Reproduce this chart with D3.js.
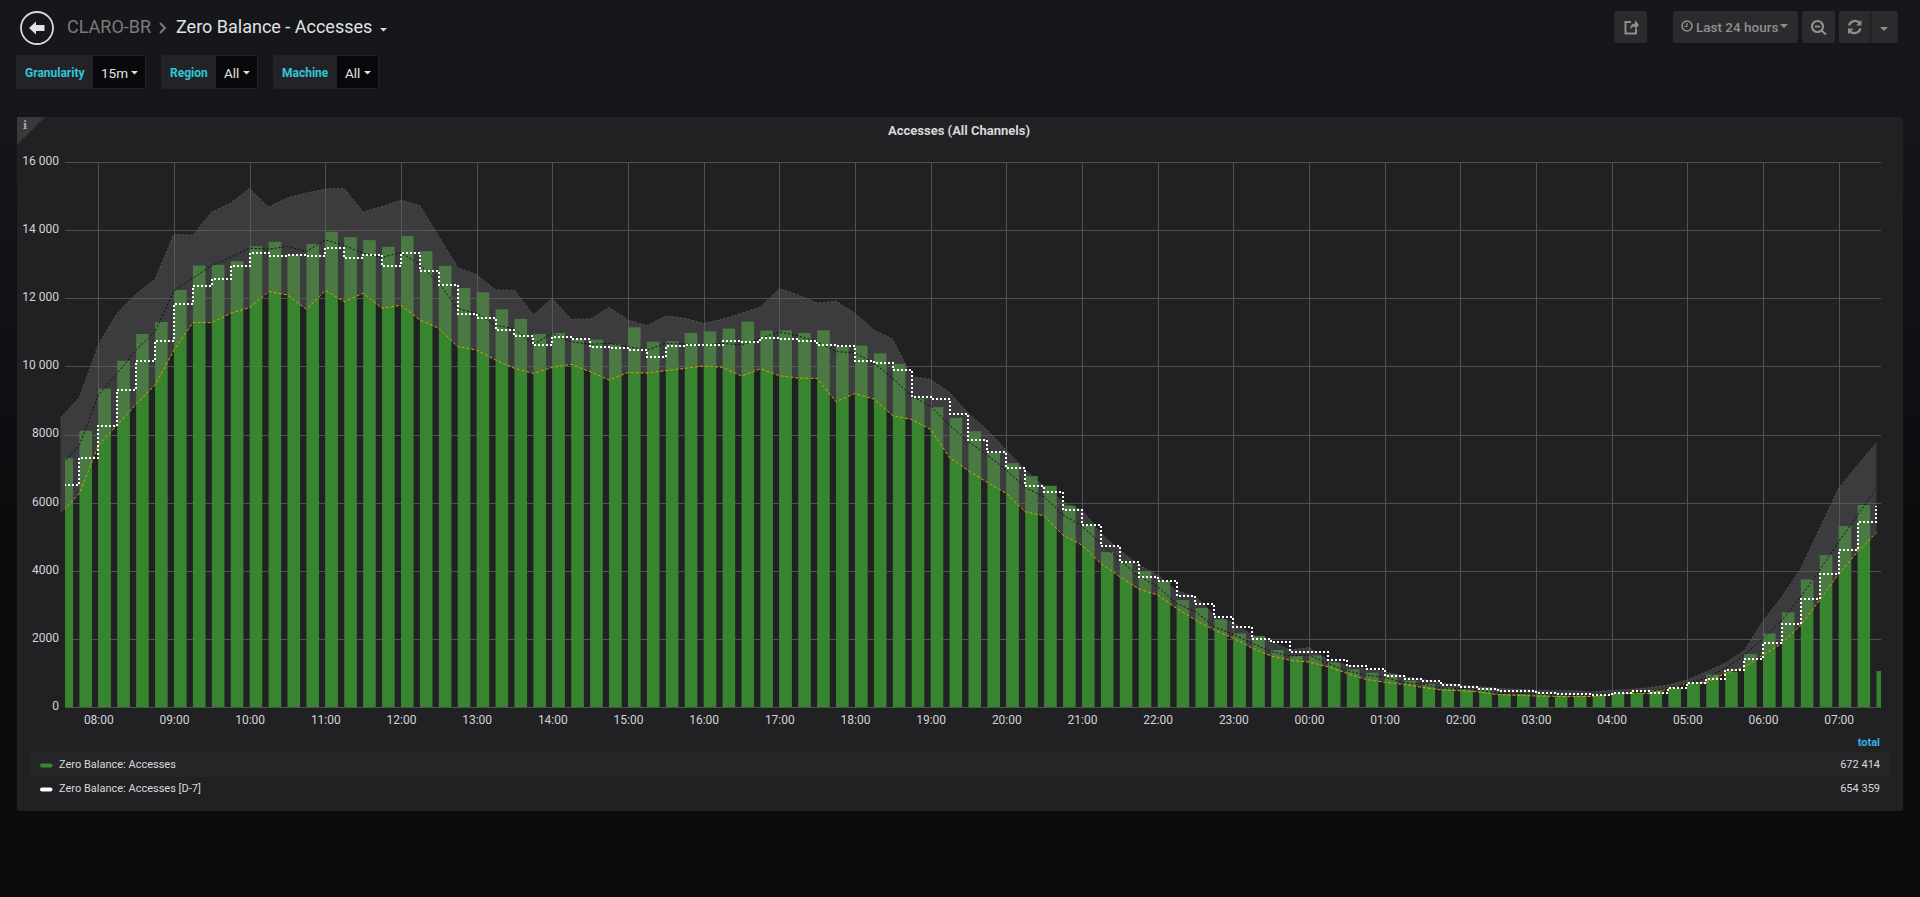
<!DOCTYPE html>
<html>
<head>
<meta charset="utf-8">
<title>Zero Balance - Accesses</title>
<script src="https://cdnjs.cloudflare.com/ajax/libs/d3/7.8.5/d3.min.js"></script>
<style>
    html, body { margin: 0; padding: 0; overflow: hidden; height: 100%; }
    body { background: linear-gradient(#16171a 0, #15161a 120px, #0b0c0e 520px); }
    svg { display: block; font-family: Roboto, sans-serif; }
    .axis text { fill: #d3d4d5; font-size: 12px; font-family: Roboto, sans-serif; }
    .axis line { stroke: #505052; shape-rendering: crispEdges; }
    .axis .domain { display: none; }
</style>
</head>
<body>
<svg id="chart" width="1920" height="897"></svg>
<script>
// values, one per 15 minutes starting 07:30
const accesses = [7304, 8108, 9343, 10167, 10951, 11304, 12245, 12961, 12980, 13088, 13529, 13657, 13275, 13598, 13951, 13794, 13706, 13510, 13824, 13382, 12951, 12304, 12176, 11676, 11392, 10951, 10980, 10794, 10784, 10647, 11147, 10725, 10735, 10980, 11029, 11108, 11314, 11049, 11059, 10980, 11059, 10578, 10608, 10382, 10069, 9059, 8804, 8490, 8098, 7472, 7159, 6778, 6494, 5907, 5340, 4548, 4235, 3990, 3697, 3140, 2905, 2572, 2161, 2083, 1672, 1496, 1516, 1310, 1105, 1007, 968, 773, 675, 567, 518, 567, 381, 381, 381, 342, 342, 342, 401, 420, 499, 548, 694, 958, 1037, 1555, 2161, 2777, 3746, 4460, 5311, 5927, 1056];
const accessesD7 = [6520, 7324, 8235, 9304, 10147, 10745, 11843, 12363, 12569, 12961, 13343, 13255, 13284, 13255, 13461, 13186, 13275, 12961, 13324, 12804, 12392, 11549, 11412, 11069, 10902, 10637, 10863, 10794, 10578, 10539, 10480, 10284, 10608, 10637, 10637, 10755, 10725, 10824, 10794, 10735, 10627, 10608, 10157, 10098, 9892, 9098, 9029, 8608, 7843, 7472, 7002, 6484, 6308, 5790, 5340, 4724, 4245, 3805, 3697, 3257, 3022, 2650, 2347, 1995, 1897, 1604, 1614, 1369, 1203, 1115, 919, 831, 773, 645, 597, 518, 460, 479, 401, 381, 381, 362, 401, 460, 411, 557, 694, 812, 1086, 1418, 1878, 2425, 3169, 3902, 4606, 5438, 5897];
const forecast = [7078, 7686, 9157, 9794, 10480, 11020, 12216, 12588, 12961, 13206, 13471, 13441, 13520, 13373, 13716, 13549, 13324, 13196, 13343, 12980, 12441, 11696, 11559, 11216, 11098, 10647, 10971, 10725, 10647, 10676, 10578, 10480, 10676, 10657, 10627, 10676, 10627, 10824, 11010, 10892, 10725, 10431, 10402, 10088, 9647, 9127, 8833, 8274, 7785, 7394, 6954, 6445, 6171, 5633, 5311, 4802, 4313, 3844, 3531, 3042, 2797, 2357, 2132, 1868, 1623, 1496, 1526, 1281, 1066, 939, 871, 714, 675, 548, 548, 499, 401, 401, 381, 352, 342, 342, 381, 401, 450, 548, 694, 841, 1134, 1526, 2015, 2553, 3237, 4020, 4851, 5633, 6416];
const upperBound = [8490, 9088, 10627, 11559, 12127, 12559, 13882, 13853, 14529, 14794, 15216, 14676, 14941, 15088, 15206, 15225, 14529, 14696, 14882, 14716, 13814, 12902, 12686, 12245, 12235, 11510, 11990, 11382, 11392, 11725, 11363, 11196, 11480, 11412, 11265, 11382, 11559, 11735, 12284, 12098, 11853, 11912, 11559, 11069, 10794, 9696, 9618, 9235, 8616, 8127, 7540, 6954, 6484, 6024, 5780, 5095, 4606, 4166, 3873, 3413, 3237, 2699, 2474, 2112, 1916, 1672, 1750, 1379, 1232, 1125, 1037, 890, 812, 694, 645, 597, 548, 518, 499, 479, 479, 440, 489, 518, 567, 645, 792, 1037, 1281, 1653, 2523, 3237, 4068, 5242, 6416, 7100, 7755];
const lowerBound = [5677, 6265, 7676, 8275, 8892, 9451, 10480, 11284, 11284, 11559, 11725, 12196, 12098, 11676, 12225, 11902, 12147, 11706, 11794, 11363, 11118, 10578, 10480, 10186, 9941, 9794, 9971, 10059, 9843, 9598, 9823, 9804, 9873, 9941, 10010, 9971, 9716, 9931, 9725, 9657, 9647, 8961, 9206, 9039, 8549, 8441, 8147, 7325, 6934, 6592, 6269, 5731, 5614, 5047, 4753, 4215, 3825, 3463, 3287, 2895, 2552, 2260, 2020, 1727, 1496, 1369, 1320, 1183, 988, 812, 724, 665, 577, 499, 479, 440, 362, 342, 323, 313, 303, 313, 362, 401, 401, 538, 694, 714, 988, 1164, 1526, 1868, 2406, 3139, 3902, 4557, 5115];

const yTicks = [0, 2000, 4000, 6000, 8000, 10000, 12000, 14000, 16000];
const yMax = 16000;
const seriesNames = ["Zero Balance: Accesses", "Zero Balance: Accesses [D-7]"];
const seriesTotals = ["672 414", "654 359"];
const seriesColors = ["#38882e", "#ffffff"];

const MIN15 = 15 * 60 * 1000;
const firstBucket = Date.UTC(2018, 0, 1, 7, 30);
const rangeStart = Date.UTC(2018, 0, 1, 7, 33, 35);
const rangeEnd = Date.UTC(2018, 0, 2, 7, 33, 35);
const timeAt = i => new Date(firstBucket + i * MIN15);

const svg = d3.select("#chart");

const plot = { left: 65, right: 1881, top: 162, bottom: 707 };
const x = d3.scaleUtc().domain([rangeStart, rangeEnd]).range([plot.left, plot.right]);
const y = d3.scaleLinear().domain([0, yMax]).range([plot.bottom, plot.top]);
const barWidth = x(new Date(rangeStart + MIN15 * 2 / 3)) - x(new Date(rangeStart));

// panel
svg.append("rect").attr("x", 17).attr("y", 117).attr("width", 1886).attr("height", 694)
    .attr("rx", 2).attr("fill", "#212124");
svg.append("path").attr("d", "M17 117H45L17 145Z").attr("fill", "#39393c");
svg.append("text").attr("x", 25).attr("y", 129).attr("text-anchor", "middle")
    .attr("fill", "#a8a8a8").attr("font-size", 11).attr("font-weight", 700)
    .attr("font-family", "DejaVu Serif, serif").text("i");
svg.append("text").attr("x", 959).attr("y", 135).attr("text-anchor", "middle")
    .attr("fill", "#d8d9da").attr("font-size", 13).attr("font-weight", 700)
    .text("Accesses (All Channels)");

svg.append("clipPath").attr("id", "plot-clip").append("rect")
    .attr("x", plot.left).attr("y", plot.top)
    .attr("width", plot.right - plot.left).attr("height", plot.bottom - plot.top);

// axes and grid
const yAxis = d3.axisLeft(y).tickValues(yTicks).tickSize(-(plot.right - plot.left)).tickPadding(6)
    .tickFormat(d => d >= 10000 ? d3.format(",")(d).replace(",", " ") : d);
svg.append("g").attr("class", "axis").attr("transform", `translate(${plot.left},0)`).call(yAxis)
    .selectAll("text").attr("dy", "0.2em");

const xAxis = d3.axisBottom(x).ticks(d3.utcHour.every(1)).tickSize(-(plot.bottom - plot.top)).tickPadding(8)
    .tickFormat(d3.utcFormat("%H:%M"));
svg.append("g").attr("class", "axis").attr("transform", `translate(0,${plot.bottom})`).call(xAxis);

// bars
svg.append("g").attr("clip-path", "url(#plot-clip)")
    .selectAll("rect").data(accesses).join("rect")
    .attr("x", (d, i) => x(timeAt(i)))
    .attr("y", d => y(d))
    .attr("width", barWidth)
    .attr("height", d => plot.bottom - y(d))
    .attr("fill", seriesColors[0])
    .attr("fill-opacity", 0.97);

// forecast band
const band = d3.area().x((d, i) => x(timeAt(i))).y0((d, i) => y(lowerBound[i])).y1(d => y(d));
svg.append("path").datum(upperBound).attr("d", band).attr("fill", "#666666").attr("fill-opacity", 0.4);

const line = d3.line().x((d, i) => x(timeAt(i))).y(d => y(d));
svg.append("path").datum(upperBound).attr("d", line).attr("fill", "none")
    .attr("stroke", "#58585a").attr("stroke-width", 1).attr("stroke-dasharray", "2,2");

const clipped = svg.append("g").attr("clip-path", "url(#plot-clip)");
clipped.append("path").datum(lowerBound).attr("d", line).attr("fill", "none")
    .attr("stroke", "#d6a400").attr("stroke-width", 1).attr("stroke-dasharray", "3,2");
clipped.append("path").datum(forecast).attr("d", line).attr("fill", "none")
    .attr("stroke", "#0d0d0d").attr("stroke-width", 1).attr("stroke-dasharray", "2,2");
// snapped to whole pixels so the dots stay crisp like the original canvas
clipped.append("path").datum(accessesD7)
    .attr("d", d3.line().x((d, i) => Math.round(x(timeAt(i)))).y(d => Math.round(y(d))).curve(d3.curveStepAfter))
    .attr("fill", "none").attr("stroke", "#ffffff").attr("stroke-width", 2).attr("stroke-dasharray", "2,2");

// legend
svg.append("text").attr("x", 1880).attr("y", 746).attr("text-anchor", "end")
    .attr("fill", "#33b5e5").attr("font-size", 11).attr("font-weight", 700).text("total");
const rows = svg.append("g").selectAll("g").data(seriesNames).join("g")
    .attr("transform", (d, i) => `translate(0,${753 + i * 24})`);
rows.append("rect").attr("x", 30).attr("width", 1860).attr("height", 24)
    .attr("fill", (d, i) => i === 0 ? "#262628" : "none");
rows.append("rect").attr("x", 40).attr("y", 10.5).attr("width", 12.5).attr("height", 4).attr("rx", 2)
    .attr("fill", (d, i) => seriesColors[i]);
rows.append("text").attr("x", 59).attr("y", 15).attr("fill", "#d8d9da").attr("font-size", 11).text(d => d);
rows.append("text").attr("x", 1880).attr("y", 15).attr("text-anchor", "end")
    .attr("fill", "#d8d9da").attr("font-size", 11).text((d, i) => seriesTotals[i]);

// header
const header = svg.append("g");
header.append("circle").attr("cx", 37).attr("cy", 28).attr("r", 16).attr("fill", "none")
    .attr("stroke", "#d8d9da").attr("stroke-width", 1.8);
header.append("path").attr("d", "M29 28L36 21.5V25H44.5V31H36V34.5Z").attr("fill", "#e3e3e3");
header.append("text").attr("x", 67).attr("y", 33).attr("fill", "#7b7b7b").attr("font-size", 18).text("CLARO-BR");
header.append("path").attr("d", "M160 23L165 28L160 33").attr("fill", "none").attr("stroke", "#7b7b7b").attr("stroke-width", 2);
header.append("text").attr("x", 176).attr("y", 33).attr("fill", "#e3e3e3").attr("font-size", 18).text("Zero Balance - Accesses");
header.append("path").attr("d", "M380 28H387L383.5 31.5Z").attr("fill", "#d8d9da");

// template variables
const vars = [
    { label: "Granularity", value: "15m", x0: 16, split: 93, x1: 146 },
    { label: "Region", value: "All", x0: 161, split: 216, x1: 258 },
    { label: "Machine", value: "All", x0: 273, split: 337, x1: 379 }
];
const varG = svg.append("g").selectAll("g").data(vars).join("g");
varG.append("rect").attr("x", d => d.x0).attr("y", 55).attr("width", d => d.x1 - d.x0).attr("height", 34)
    .attr("rx", 2).attr("fill", "#212327");
varG.append("rect").attr("x", d => d.split).attr("y", 56).attr("width", d => d.x1 - d.split - 1).attr("height", 32)
    .attr("fill", "#09090b");
varG.append("text").attr("x", d => d.x0 + 9).attr("y", 77).attr("fill", "#33c5d9")
    .attr("font-size", 12).attr("font-weight", 700).text(d => d.label);
varG.append("text").attr("x", d => d.split + 8).attr("y", 78).attr("fill", "#e3e3e3")
    .attr("font-size", 13.5).text(d => d.value);
varG.append("path").attr("d", d => `M${d.x1 - 15} 71H${d.x1 - 8}L${d.x1 - 11.5} 74.5Z`).attr("fill", "#e3e3e3");

// toolbar buttons
const btnColor = "#8e8e8e";
const buttons = [[1614, 33], [1673, 125], [1802, 33], [1839, 59]];
svg.append("g").selectAll("rect").data(buttons).join("rect")
    .attr("x", d => d[0]).attr("y", 11).attr("width", d => d[1]).attr("height", 32)
    .attr("rx", 2).attr("fill", "#2b2b2e");
svg.append("line").attr("x1", 1871).attr("x2", 1871).attr("y1", 11).attr("y2", 43).attr("stroke", "#1f1f21");
const tb = svg.append("g");
// share
tb.append("path").attr("d", "M1631 22H1625.5V33.5H1636V29").attr("fill", "none").attr("stroke", btnColor).attr("stroke-width", 2);
tb.append("path").attr("d", "M1630 30C1630 25 1632.5 23.5 1635 23.5V20L1639 25L1635 29.5V26.5C1633 26.5 1631 27 1630 30Z").attr("fill", btnColor);
// clock
tb.append("circle").attr("cx", 1687).attr("cy", 26).attr("r", 5).attr("fill", "none").attr("stroke", btnColor).attr("stroke-width", 1.6);
tb.append("path").attr("d", "M1687 23V26.5H1684.5").attr("fill", "none").attr("stroke", btnColor).attr("stroke-width", 1.2);
tb.append("text").attr("x", 1696).attr("y", 31.5).attr("fill", btnColor).attr("font-size", 13.5).attr("font-weight", 500).text("Last 24 hours");
tb.append("path").attr("d", "M1780 24H1788L1784 28Z").attr("fill", btnColor);
// zoom out
tb.append("circle").attr("cx", 1817.5).attr("cy", 26.5).attr("r", 5.5).attr("fill", "none").attr("stroke", btnColor).attr("stroke-width", 2.2);
tb.append("path").attr("d", "M1815 26.5H1820M1821.5 30.5L1826 34.5").attr("stroke", btnColor).attr("stroke-width", 2.2).attr("fill", "none");
// refresh
tb.append("path").attr("d", "M1849 25.5A6.5 6.5 0 0 1 1860 23M1860.5 28.5A6.5 6.5 0 0 1 1849.5 31").attr("fill", "none").attr("stroke", btnColor).attr("stroke-width", 2.4);
tb.append("path").attr("d", "M1861.5 20V25.5H1856ZM1848 34V28.5H1853.5Z").attr("fill", btnColor);
tb.append("path").attr("d", "M1880 27H1888L1884 31Z").attr("fill", btnColor);
</script>
</body>
</html>
